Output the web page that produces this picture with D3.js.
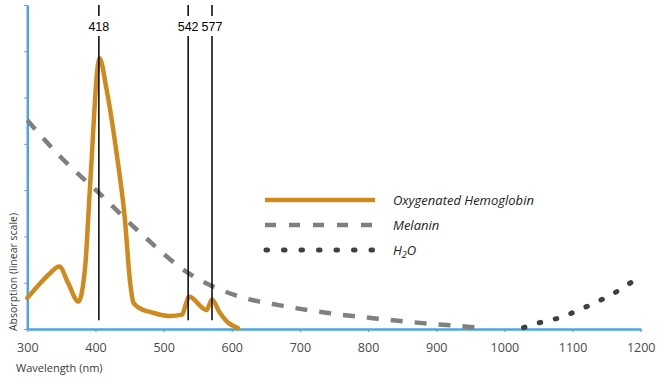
<!DOCTYPE html>
<html>
<head>
<meta charset="utf-8">
<script src="https://cdn.jsdelivr.net/npm/d3@7"></script>
<style>
  body { margin: 0; background: #fff; }
  svg { display: block; }
  text { font-family: 'Open Sans', sans-serif; fill: #3a3a3a; }
</style>
</head>
<body>
<svg width="662" height="381"></svg>
<script>
/*eslint no-undef: 0*/

// oxygenated hemoglobin (wavelength nm, absorption)
const hbWl = [300, 319, 333, 347, 360, 375, 385, 392, 406, 416, 431, 443, 451, 456, 470, 480, 498, 509, 527, 533, 537, 563, 571, 582, 593, 609]
const hbAbs = [0.67, 0.99, 1.2, 1.35, 0.99, 0.59, 1.36, 3.07, 5.85, 5.2, 3.8, 2.4, 0.99, 0.56, 0.41, 0.37, 0.3, 0.28, 0.31, 0.55, 0.7, 0.41, 0.64, 0.36, 0.16, 0.02]

// melanin
const melWl = [300, 350, 405, 470, 536, 605, 675, 744, 815, 886, 954, 962]
const melAbs = [4.51, 3.7, 2.94, 2.02, 1.21, 0.73, 0.5, 0.34, 0.22, 0.12, 0.04, 0.03]

// water
const h2oWl = [1028, 1055, 1080, 1103, 1126, 1149, 1171, 1192, 1200]
const h2oAbs = [0.03, 0.15, 0.24, 0.37, 0.52, 0.68, 0.86, 1.06, 1.12]

// peak markers: where the lines sit on the axis, and what they say
const markerAt = [405, 536, 571]
const markerLabels = ['418', '542', '577']

const xTicks = [300, 400, 500, 600, 700, 800, 900, 1000, 1100, 1200]
const yTicks = [0, 1, 2, 3, 4, 5, 6, 7]

const svg = d3.select('svg')

const x = d3.scaleLinear().domain([300, 1200]).range([27.3, 640.7])
const y = d3.scaleLinear().domain([0, 7]).range([329, 5])

const axisColor = '#4ca4e4'

// ========================================================
//  axes
// ========================================================
const xAxis = svg.append('g')
  .attr('transform', 'translate(0,' + y(0) + ')')
  .call(d3.axisBottom(x).tickValues(xTicks).tickSize(3).tickSizeOuter(0).tickFormat(d3.format('d')))
xAxis.select('.domain').attr('stroke', axisColor).attr('stroke-width', 2.5)
xAxis.selectAll('.tick line').attr('stroke', axisColor).attr('stroke-width', 1.2)
xAxis.selectAll('.tick text')
  .attr('y', 14)
  .attr('font-size', 12.5)
  .style('fill', '#4a4a4a')

const yAxis = svg.append('g')
  .attr('transform', 'translate(' + x(300) + ',0)')
  .call(d3.axisLeft(y).tickValues(yTicks).tickSize(3).tickSizeOuter(0).tickFormat(''))
yAxis.select('.domain').attr('stroke', axisColor).attr('stroke-width', 2.5)
yAxis.selectAll('.tick line').attr('stroke', '#6a8fae').attr('stroke-width', 1)

svg.append('text')
  .attr('x', 16)
  .attr('y', 372)
  .attr('font-size', 11)
  .text('Wavelength (nm)')

svg.append('text')
  .attr('transform', 'translate(17,272) rotate(-90)')
  .attr('text-anchor', 'middle')
  .attr('font-size', 10.5)
  .text('Absorption (linear scale)')

// ========================================================
//  curves
// ========================================================
const line = d3.line()
  .x(d => x(d[0]))
  .y(d => y(d[1]))
  .curve(d3.curveMonotoneX)

svg.append('path')
  .datum(melWl.map((w, i) => [w, melAbs[i]]))
  .attr('fill', 'none')
  .attr('stroke', '#808080')
  .attr('stroke-width', 4.5)
  .attr('stroke-dasharray', '12,12')
  .attr('d', line)

svg.append('path')
  .datum(h2oWl.map((w, i) => [w, h2oAbs[i]]))
  .attr('fill', 'none')
  .attr('stroke', '#404040')
  .attr('stroke-width', 5)
  .attr('stroke-linecap', 'round')
  .attr('stroke-dasharray', '1.5,15')
  .attr('d', line)

svg.append('path')
  .datum(hbWl.map((w, i) => [w, hbAbs[i]]))
  .attr('fill', 'none')
  .attr('stroke', '#cf8a1b')
  .attr('stroke-width', 4.5)
  .attr('stroke-linejoin', 'round')
  .attr('stroke-linecap', 'round')
  .attr('d', line)

// ========================================================
//  peak markers
// ========================================================
const markers = svg.append('g')
  .selectAll('g')
  .data(markerAt)
  .enter().append('g')

markers.append('line')
  .attr('x1', d => x(d))
  .attr('x2', d => x(d))
  .attr('y1', y(7))
  .attr('y2', y(0.19))
  .attr('stroke', '#000')
  .attr('stroke-width', 1.5)

markers.append('rect')
  .attr('x', d => x(d) - 10)
  .attr('y', 16)
  .attr('width', 20)
  .attr('height', 20)
  .attr('fill', '#fff')

markers.append('text')
  .attr('x', d => x(d))
  .attr('y', 30.5)
  .attr('text-anchor', 'middle')
  .attr('font-size', 12.5)
  .style('font-family', "'Liberation Sans', Arial, sans-serif")
  .style('fill', '#000')
  .text((d, i) => markerLabels[i])

// ========================================================
//  legend
// ========================================================
const legendNames = ['Oxygenated Hemoglobin', 'Melanin', 'H2O']
const legendStyles = [
  {stroke: '#cf8a1b', width: 4.5, dash: null, cap: 'butt'},
  {stroke: '#808080', width: 4.5, dash: '11,13', cap: 'butt'},
  {stroke: '#404040', width: 5, dash: '1.5,16', cap: 'round'}
]

const legend = svg.append('g')
  .selectAll('g')
  .data(legendNames)
  .enter().append('g')
  .attr('transform', (d, i) => 'translate(0,' + (200 + i * 25) + ')')

legend.append('line')
  .attr('x1', (d, i) => i === 2 ? 266 : 265)
  .attr('x2', 375)
  .attr('stroke', (d, i) => legendStyles[i].stroke)
  .attr('stroke-width', (d, i) => legendStyles[i].width)
  .attr('stroke-dasharray', (d, i) => legendStyles[i].dash)
  .attr('stroke-linecap', (d, i) => legendStyles[i].cap)

const legendText = legend.append('text')
  .attr('x', 393)
  .attr('y', 5)
  .attr('font-size', 13)
  .attr('font-style', 'italic')
  .style('fill', '#222')

legendText.filter(d => d !== 'H2O').text(d => d)
const h2o = legendText.filter(d => d === 'H2O')
h2o.append('tspan').text('H')
h2o.append('tspan').attr('dy', 3).attr('font-size', 9).text('2')
h2o.append('tspan').attr('dy', -3).text('O')
</script>
</body>
</html>
